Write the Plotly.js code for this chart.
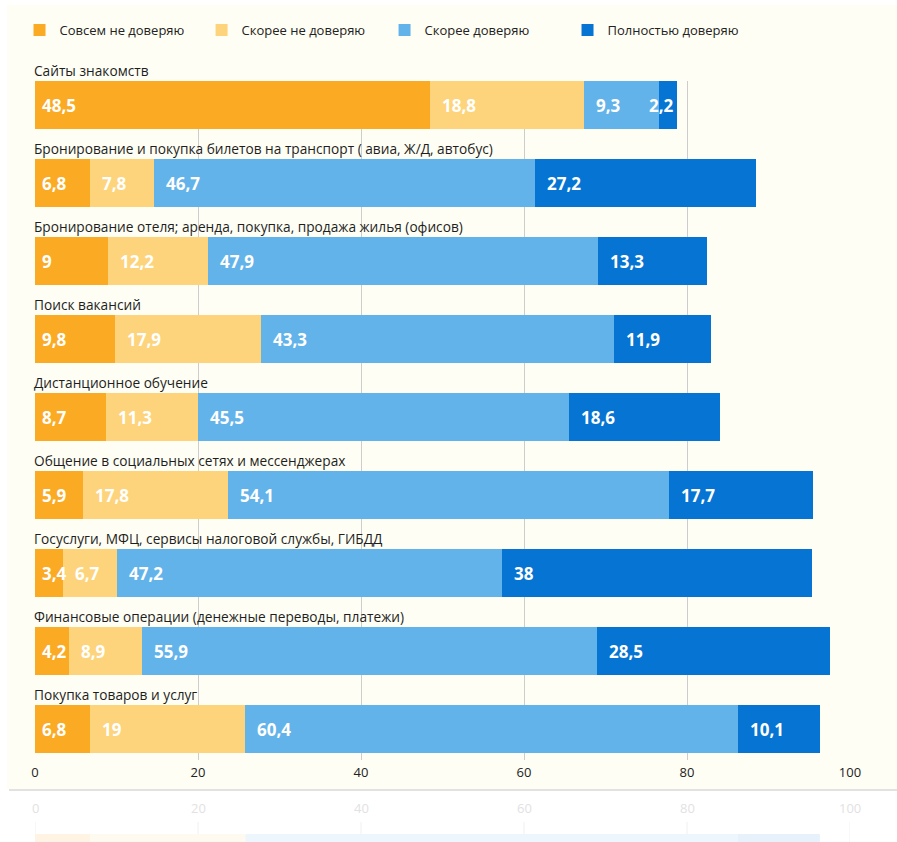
<!DOCTYPE html>
<html>
<head>
<meta charset="utf-8">
<script src="https://cdn.plot.ly/plotly-3.0.1.min.js"></script>
<style>
html,body{margin:0;padding:0;background:#ffffff;}
#chart{width:897px;height:842px;}
</style>
</head>
<body>
<div id="chart"></div>
<script>
const categories = [
  "Сайты знакомств",
  "Бронирование и покупка билетов на транспорт ( авиа, Ж/Д, автобус)",
  "Бронирование отеля; аренда, покупка, продажа жилья (офисов)",
  "Поиск вакансий",
  "Дистанционное обучение",
  "Общение в социальных сетях и мессенджерах",
  "Госуслуги, МФЦ, сервисы налоговой службы, ГИБДД",
  "Финансовые операции (денежные переводы, платежи)",
  "Покупка товаров и услуг"
];
const seriesNames = ["Совсем не доверяю", "Скорее не доверяю", "Скорее доверяю", "Полностью доверяю"];
const notTrustAtAll = [48.5, 6.8, 9, 9.8, 8.7, 5.9, 3.4, 4.2, 6.8];
const ratherNotTrust = [18.8, 7.8, 12.2, 17.9, 11.3, 17.8, 6.7, 8.9, 19];
const ratherTrust = [9.3, 46.7, 47.9, 43.3, 45.5, 54.1, 47.2, 55.9, 60.4];
const fullyTrust = [2.2, 27.2, 13.3, 11.9, 18.6, 17.7, 38, 28.5, 10.1];
const xTicks = [0, 20, 40, 60, 80, 100];

const colors = ["#fbaa24", "#fdd47b", "#63b3eb", "#0574d2"];
const series = [notTrustAtAll, ratherNotTrust, ratherTrust, fullyTrust];
const yIdx = categories.map((c, i) => i);
const fmt = v => String(v).replace('.', ',');

const FONT = "Open Sans, Noto Sans, sans-serif";
const BAR_W = 48 / 78;
const legendNames = ['legend', 'legend2', 'legend3', 'legend4'];
const legendX = [-0.019, 0.2044, 0.4289, 0.6534];

const traces = series.map((vals, s) => ({
  type: 'bar',
  orientation: 'h',
  name: seriesNames[s],
  legend: legendNames[s],
  y: yIdx,
  x: vals,
  width: BAR_W,
  marker: {color: colors[s], line: {width: 0}},
  hoverinfo: 'skip'
}));

const annotations = [];
// category labels above each bar
categories.forEach((c, i) => {
  annotations.push({
    xref: 'x', yref: 'y', x: 0, y: i - BAR_W / 2,
    xanchor: 'left', yanchor: 'bottom', yshift: -1, xshift: -3,
    text: c, showarrow: false,
    font: {family: FONT, size: 13.7, color: '#1e1e1e'}
  });
});
// value labels inside segments
categories.forEach((c, i) => {
  let cum = 0;
  series.forEach((vals, s) => {
    const v = vals[i];
    const small = v < 3;
    annotations.push({
      xref: 'x', yref: 'y',
      x: small ? cum + v : cum, y: i,
      xanchor: small ? 'right' : 'left', yanchor: 'middle',
      xshift: small ? -1 : (s === 0 ? 5 : 10),
      text: fmt(v), showarrow: false,
      font: {family: FONT, size: 17, color: '#ffffff', weight: 'bold'}
    });
    cum += v;
  });
});
// faint reflection of tick labels below the card
xTicks.forEach(t => {
  annotations.push({
    xref: 'x', yref: 'paper', x: t, y: (760 - 808) / 679,
    xanchor: 'center', yanchor: 'middle', text: String(t), showarrow: false,
    font: {family: FONT, size: 13, color: '#e2e2e2'}
  });
});

const shapes = [
  // card background
  {type: 'rect', layer: 'below', xref: 'paper', yref: 'paper',
   x0: (7 - 35) / 815, x1: (900 - 35) / 815, y0: (760 - 789) / 679, y1: (760 - 5) / 679,
   fillcolor: '#fffef4', line: {width: 0}},
  // card shadow line
  {type: 'line', layer: 'below', xref: 'paper', yref: 'paper',
   x0: (9 - 35) / 815, x1: (900 - 35) / 815, y0: (760 - 790) / 679, y1: (760 - 790) / 679,
   line: {color: '#e2e2e2', width: 2}}
];
// faint reflected gridlines
xTicks.forEach(t => {
  shapes.push({type: 'line', layer: 'below', xref: 'x', yref: 'paper',
    x0: t, x1: t, y0: (760 - 822) / 679, y1: (760 - 842) / 679,
    line: {color: '#f0f0f0', width: 1}});
});
// faint reflection of the last bar
{
  const last = categories.length - 1;
  const pale = ["#fff4e4", "#fffaef", "#eef6fd", "#e6f1fb"];
  let cum = 0;
  series.forEach((vals, s) => {
    const v = vals[last];
    shapes.push({type: 'rect', layer: 'below', xref: 'x', yref: 'paper',
      x0: cum, x1: cum + v, y0: (760 - 845) / 679, y1: (760 - 834) / 679,
      fillcolor: pale[s], line: {width: 0}});
    cum += v;
  });
}

const layout = {
  width: 897, height: 842,
  margin: {l: 35, r: 47, t: 81, b: 82, pad: 0},
  paper_bgcolor: '#ffffff',
  plot_bgcolor: 'rgba(0,0,0,0)',
  barmode: 'stack',
  bargap: 0,
  font: {family: FONT, size: 13, color: '#222222'},
  showlegend: true,
  xaxis: {
    range: [0, 100], tickvals: xTicks, ticktext: xTicks.map(String),
    showgrid: true, gridcolor: '#cdcdcd', gridwidth: 1,
    zeroline: false, showline: false, ticks: '', ticklabelstandoff: 3,
    tickfont: {family: FONT, size: 13, color: '#222222'},
    fixedrange: true
  },
  yaxis: {
    range: [8.397, -BAR_W / 2], showticklabels: false, showgrid: false,
    zeroline: false, showline: false, ticks: '', fixedrange: true
  },
  annotations: annotations,
  shapes: shapes
};
legendNames.forEach((ln, s) => {
  layout[ln] = {
    orientation: 'h', xref: 'paper', yref: 'paper',
    x: legendX[s], y: (760 - 30) / 679, xanchor: 'left', yanchor: 'middle',
    font: {family: FONT, size: 13, color: '#222222'},
    bgcolor: 'rgba(0,0,0,0)', borderwidth: 0
  };
});

Plotly.newPlot('chart', traces, layout, {displayModeBar: false, staticPlot: true});
</script>
</body>
</html>
